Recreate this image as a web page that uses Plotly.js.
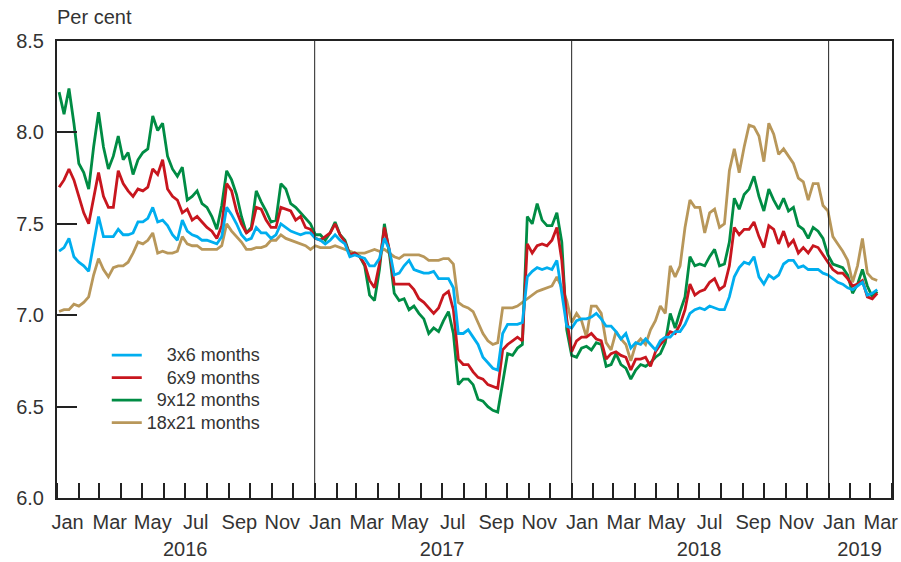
<!DOCTYPE html>
<html>
<head>
<meta charset="utf-8">
<script src="https://cdn.plot.ly/plotly-3.0.1.min.js"></script>
<style>
  html, body { margin: 0; padding: 0; background: #fff; }
  #chart { width: 901px; height: 562px; }
</style>
</head>
<body>
<div id="chart"></div>
<script>
// Weekly observations, first week starting 2016-01-04
const firstObservation = '2016-01-04';

const seriesNames = ['3x6 months', '6x9 months', '9x12 months', '18x21 months'];

const rate3x6 = [
  7.35, 7.37, 7.42, 7.32, 7.29, 7.27, 7.24, 7.38, 7.54, 7.43,
  7.43, 7.43, 7.47, 7.44, 7.44, 7.45, 7.51, 7.51, 7.53, 7.59,
  7.51, 7.52, 7.49, 7.44, 7.41, 7.52, 7.46, 7.44, 7.43, 7.41,
  7.41, 7.40, 7.39, 7.43, 7.59, 7.55, 7.50, 7.44, 7.41, 7.42,
  7.48, 7.45, 7.45, 7.42, 7.44, 7.50, 7.48, 7.46, 7.45, 7.44,
  7.45, 7.45, 7.42, 7.41, 7.39, 7.41, 7.44, 7.41, 7.39, 7.32,
  7.33, 7.32, 7.31, 7.27, 7.27, 7.31, 7.42, 7.36, 7.22, 7.23,
  7.27, 7.30, 7.25, 7.24, 7.23, 7.23, 7.24, 7.20, 7.20, 7.20,
  7.15, 6.90, 6.90, 6.92, 6.88, 6.84, 6.77, 6.74, 6.71, 6.70,
  6.90, 6.95, 6.95, 6.95, 6.96, 7.21, 7.24, 7.26, 7.25, 7.26,
  7.25, 7.30, 7.12, 6.94, 6.93, 6.97, 6.98, 6.98, 6.99, 7.01,
  6.98, 6.94, 6.94, 6.91, 6.87, 6.90, 6.82, 6.85, 6.84, 6.87,
  6.84, 6.81, 6.86, 6.88, 6.88, 6.91, 6.91, 6.95, 7.01, 7.03,
  7.04, 7.03, 7.05, 7.04, 7.03, 7.03, 7.10, 7.21, 7.26, 7.29,
  7.28, 7.32, 7.21, 7.17, 7.22, 7.20, 7.22, 7.28, 7.30, 7.30,
  7.26, 7.27, 7.25, 7.25, 7.25, 7.23, 7.22, 7.20, 7.18, 7.17,
  7.15, 7.14, 7.16, 7.18, 7.11, 7.12, 7.14
];

const rate6x9 = [
  7.70, 7.74, 7.80, 7.74, 7.65, 7.56, 7.50, 7.63, 7.78, 7.65,
  7.59, 7.59, 7.79, 7.72, 7.68, 7.65, 7.69, 7.68, 7.70, 7.80,
  7.77, 7.85, 7.69, 7.65, 7.63, 7.56, 7.58, 7.52, 7.54, 7.51,
  7.48, 7.46, 7.42, 7.49, 7.72, 7.68, 7.57, 7.50, 7.45, 7.47,
  7.59, 7.58, 7.52, 7.48, 7.48, 7.59, 7.58, 7.57, 7.52, 7.54,
  7.48, 7.47, 7.42, 7.41, 7.43, 7.45, 7.50, 7.44, 7.40, 7.33,
  7.34, 7.32, 7.28, 7.19, 7.15, 7.28, 7.48, 7.36, 7.17, 7.17,
  7.17, 7.17, 7.14, 7.09, 7.07, 7.04, 7.01, 7.04, 7.11, 7.13,
  7.03, 6.76, 6.73, 6.73, 6.69, 6.66, 6.65, 6.62, 6.61, 6.60,
  6.81, 6.84, 6.86, 6.88, 6.86, 7.39, 7.34, 7.38, 7.39, 7.38,
  7.41, 7.48, 7.30, 6.98, 6.80, 6.86, 6.88, 6.88, 6.90, 6.87,
  6.86, 6.76, 6.79, 6.80, 6.78, 6.77, 6.70, 6.76, 6.76, 6.77,
  6.72, 6.80, 6.84, 6.87, 6.91, 6.90, 6.95, 7.03, 7.17, 7.11,
  7.13, 7.14, 7.18, 7.20, 7.14, 7.16, 7.27, 7.48, 7.44, 7.47,
  7.47, 7.51, 7.43, 7.37, 7.49, 7.47, 7.39, 7.46, 7.38, 7.41,
  7.34, 7.37, 7.34, 7.38, 7.37, 7.33, 7.29, 7.25, 7.23, 7.23,
  7.20, 7.16, 7.17, 7.19, 7.10, 7.09, 7.12
];

const rate9x12 = [
  8.22, 8.10, 8.24, 8.05, 7.83, 7.78, 7.69, 7.92, 8.11, 7.92,
  7.80, 7.87, 7.98, 7.85, 7.89, 7.77, 7.85, 7.89, 7.91, 8.09,
  8.01, 8.05, 7.87, 7.80, 7.76, 7.81, 7.63, 7.65, 7.68, 7.61,
  7.59, 7.54, 7.47, 7.60, 7.79, 7.74, 7.66, 7.54, 7.45, 7.48,
  7.68, 7.62, 7.57, 7.51, 7.52, 7.72, 7.69, 7.61, 7.59, 7.56,
  7.53, 7.50, 7.44, 7.44, 7.41, 7.45, 7.51, 7.44, 7.41, 7.33,
  7.34, 7.32, 7.27, 7.11, 7.08, 7.25, 7.50, 7.34, 7.12, 7.08,
  7.09, 7.03, 7.05, 7.01, 6.98, 6.90, 6.93, 6.91, 6.97, 7.02,
  6.90, 6.62, 6.65, 6.65, 6.62, 6.54, 6.53, 6.50, 6.48, 6.47,
  6.63, 6.79, 6.78, 6.82, 6.84, 7.54, 7.50, 7.61, 7.52, 7.49,
  7.49, 7.56, 7.40, 6.92, 6.78, 6.77, 6.82, 6.83, 6.81, 6.85,
  6.84, 6.72, 6.73, 6.79, 6.73, 6.71, 6.65, 6.70, 6.73, 6.72,
  6.74, 6.77, 6.79, 6.85, 7.01, 6.93, 7.02, 7.10, 7.32, 7.27,
  7.28, 7.27, 7.32, 7.36, 7.27, 7.28, 7.40, 7.64, 7.58, 7.66,
  7.69, 7.76, 7.65, 7.57, 7.69, 7.63, 7.58, 7.64, 7.57, 7.59,
  7.49, 7.47, 7.42, 7.48, 7.46, 7.42, 7.33, 7.28, 7.27, 7.26,
  7.22, 7.12, 7.17, 7.25, 7.16, 7.10, 7.13
];

const rate18x21 = [
  7.02, 7.03, 7.03, 7.06, 7.05, 7.07, 7.10, 7.22, 7.31, 7.25,
  7.21, 7.26, 7.27, 7.27, 7.29, 7.34, 7.40, 7.39, 7.41, 7.45,
  7.34, 7.35, 7.34, 7.34, 7.35, 7.43, 7.39, 7.38, 7.38, 7.36,
  7.36, 7.36, 7.36, 7.38, 7.50, 7.46, 7.43, 7.40, 7.36, 7.36,
  7.37, 7.37, 7.38, 7.41, 7.41, 7.44, 7.42, 7.41, 7.40, 7.39,
  7.38, 7.36, 7.38, 7.37, 7.37, 7.37, 7.38, 7.37, 7.36, 7.35,
  7.34, 7.34, 7.34, 7.35, 7.36, 7.35, 7.36, 7.34, 7.32, 7.31,
  7.33, 7.33, 7.33, 7.33, 7.32, 7.30, 7.30, 7.30, 7.31, 7.31,
  7.28, 7.07, 7.05, 7.04, 7.02, 6.96, 6.90, 6.86, 6.84, 6.85,
  7.04, 7.04, 7.04, 7.05, 7.07, 7.09, 7.11, 7.13, 7.14, 7.15,
  7.16, 7.21, 7.15, 7.08, 6.96, 7.01, 6.97, 6.88, 7.05, 7.05,
  7.01, 6.85, 6.81, 6.91, 6.87, 6.84, 6.75, 6.84, 6.87, 6.84,
  6.92, 6.97, 7.05, 7.01, 7.27, 7.21, 7.27, 7.48, 7.63, 7.59,
  7.59, 7.45, 7.56, 7.58, 7.48, 7.50, 7.79, 7.91, 7.78, 7.92,
  8.04, 8.03, 7.98, 7.84, 8.05, 7.99, 7.88, 7.91, 7.87, 7.83,
  7.75, 7.73, 7.63, 7.72, 7.72, 7.60, 7.57, 7.43, 7.39, 7.35,
  7.30, 7.18, 7.27, 7.42, 7.23, 7.20, 7.19
];

const seriesColors = ['#00AEEF', '#C8161E', '#008C44', '#B8975A'];

const monthLabels = ['Jan', 'Mar', 'May', 'Jul', 'Sep', 'Nov'];
const yearLabels = ['2016', '2017', '2018', '2019'];
const yTicks = [6.0, 6.5, 7.0, 7.5, 8.0, 8.5];

// ---------- helpers ----------
function iso(d) { return d.toISOString().slice(0, 10); }
function weeklyDates(start, n) {
  const out = [];
  const d = new Date(start + 'T00:00:00Z');
  for (let i = 0; i < n; i++) {
    out.push(iso(d));
    d.setUTCDate(d.getUTCDate() + 7);
  }
  return out;
}
const dates = weeklyDates(firstObservation, rate3x6.length);

// month-start tick marks (Jan 2016 .. Apr 2019)
const monthStarts = [];
for (let y = 2016; y <= 2019; y++) {
  for (let m = 1; m <= 12; m++) {
    if (y === 2019 && m > 4) break;
    monthStarts.push(y + '-' + String(m).padStart(2, '0') + '-01');
  }
}
// odd-month labels centred mid-month
const monthLabelVals = [], monthLabelText = [];
for (let y = 2016; y <= 2019; y++) {
  for (let i = 0; i < monthLabels.length; i++) {
    const m = 1 + 2 * i;
    if (y === 2019 && m > 3) break;
    monthLabelVals.push(y + '-' + String(m).padStart(2, '0') + '-16');
    monthLabelText.push(monthLabels[i]);
  }
}
const yearLabelVals = ['2016-07-01', '2017-07-01', '2018-07-01', '2019-02-14'];
const yearBoundaries = ['2017-01-01', '2018-01-01', '2019-01-01'];

const xRange = ['2016-01-01', '2019-04-01'];
const textColor = '#333333';
const fontFamily = '"Liberation Sans", Arial, sans-serif';

const values = [rate3x6, rate6x9, rate9x12, rate18x21];
const pad = ['\u00a0\u00a0\u00a0\u00a0', '\u00a0\u00a0\u00a0\u00a0', '\u00a0\u00a0', ''];

// draw tan first, blue last (blue on top)
const traces = [];
for (let i = values.length - 1; i >= 0; i--) {
  traces.push({
    type: 'scatter', mode: 'lines',
    x: dates, y: values[i],
    name: '<span style="font-size:18px">' + pad[i] + seriesNames[i] + '</span>',
    line: { color: seriesColors[i], width: 2.8 },
    hoverinfo: 'skip'
  });
}
// carrier for the year-label axis (no visible marks)
traces.push({
  type: 'scatter', mode: 'lines', xaxis: 'x2', yaxis: 'y',
  x: yearLabelVals, y: yearLabelVals.map(() => null),
  showlegend: false, hoverinfo: 'skip', line: { width: 0 }
});

const layout = {
  width: 901, height: 562,
  margin: { l: 57, r: 9, t: 41, b: 64 },
  paper_bgcolor: '#ffffff', plot_bgcolor: '#ffffff',
  font: { family: fontFamily, size: 20, color: textColor },
  title: {
    text: 'Per cent',
    font: { family: fontFamily, size: 20, color: textColor },
    x: 57 / 901, xanchor: 'left', xref: 'container',
    y: 1 - 17 / 562, yanchor: 'middle', yref: 'container'
  },
  showlegend: true,
  legend: {
    traceorder: 'reversed',
    x: 0.0596, y: 0.348, xanchor: 'left', yanchor: 'top',
    bgcolor: 'rgba(0,0,0,0)',
    font: { family: fontFamily, size: 15, color: textColor }
  },
  xaxis: {
    type: 'date', range: xRange,
    tickmode: 'array', tickvals: monthLabelVals, ticktext: monthLabelText,
    ticks: '', ticklabelstandoff: 5,
    tickfont: { family: fontFamily, size: 20, color: textColor },
    minor: {
      tickmode: 'array', tickvals: monthStarts,
      ticks: 'inside', ticklen: 15, tickwidth: 2, tickcolor: '#222', showgrid: false
    },
    showline: true, linewidth: 2, linecolor: '#222', mirror: true,
    showgrid: false, zeroline: false, fixedrange: true
  },
  xaxis2: {
    type: 'date', range: xRange, overlaying: 'x', anchor: 'y', side: 'bottom',
    tickmode: 'array', tickvals: yearLabelVals, ticktext: yearLabels,
    ticks: '', showline: false, showgrid: false, zeroline: false,
    tickfont: { family: fontFamily, size: 20, color: textColor },
    ticklabelstandoff: 37, fixedrange: true
  },
  yaxis: {
    range: [6.0, 8.5],
    tickmode: 'array', tickvals: yTicks, tickformat: '.1f',
    ticks: 'inside', ticklen: 20, tickwidth: 2, tickcolor: '#222',
    ticklabelstandoff: 7,
    showline: true, linewidth: 2, linecolor: '#222', mirror: true,
    showgrid: false, zeroline: false,
    tickfont: { family: fontFamily, size: 20, color: textColor },
    fixedrange: true
  },
  shapes: yearBoundaries.map(d => ({
    type: 'line', xref: 'x', yref: 'paper',
    x0: d, x1: d, y0: 0, y1: 1,
    line: { color: '#222', width: 1 }
  })),
  hovermode: false
};

Plotly.newPlot('chart', traces, layout, { displayModeBar: false, staticPlot: true });
</script>
</body>
</html>
